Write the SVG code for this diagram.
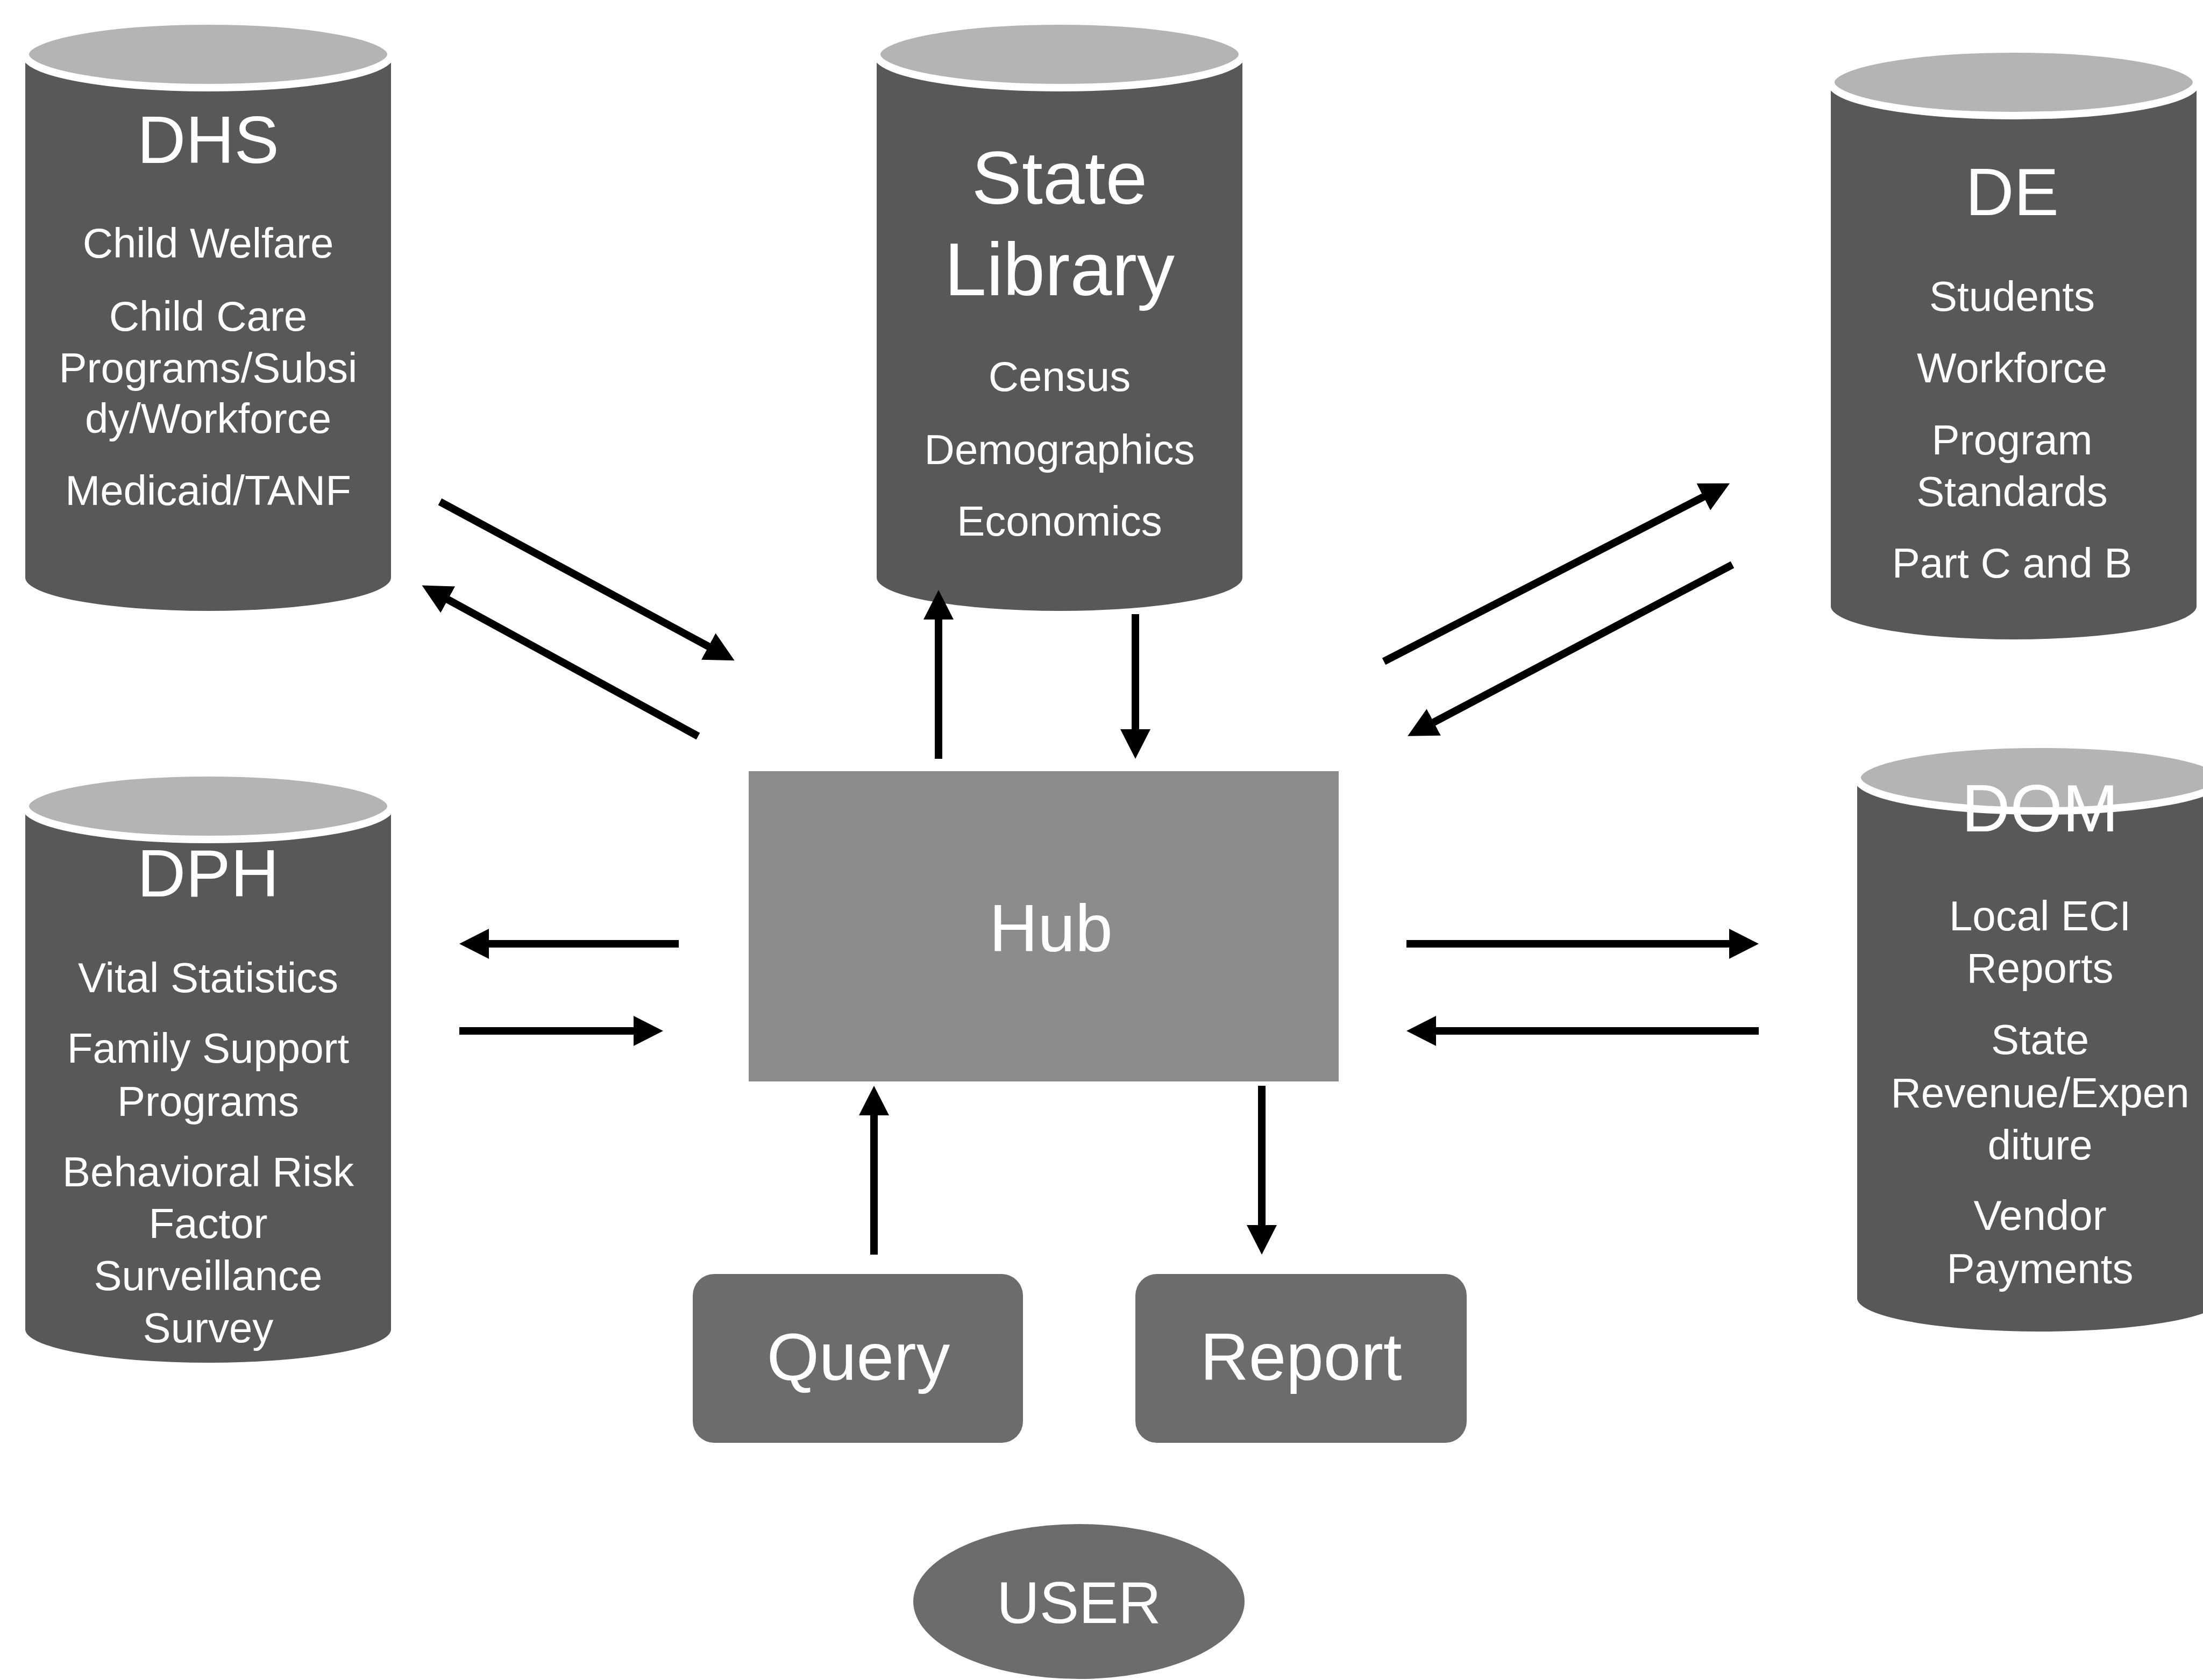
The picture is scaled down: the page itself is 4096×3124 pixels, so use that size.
<svg xmlns="http://www.w3.org/2000/svg" width="4096" height="3124" viewBox="0 0 4096 3124">
<style>
.body{fill:#585858}
.top{fill:#b4b4b4;stroke:#ffffff;stroke-width:14}
.box{fill:#6c6c6c}
.hub{fill:#8c8c8c}
.t{font-family:"Liberation Sans",Arial,sans-serif;fill:#ffffff;text-anchor:middle}
.big{font-size:125px}
.sm{font-size:78px}
.con line{stroke:#000;stroke-width:14;marker-end:url(#ah)}
</style>
<defs>
<marker id="ah" markerUnits="userSpaceOnUse" markerWidth="60" markerHeight="60" viewBox="0 -30 60 60" refX="2" refY="0" orient="auto"><path d="M0,-28 L55,0 L0,28 z" fill="#000"/></marker>
</defs>
<rect width="4096" height="3124" fill="#fff"/>

<g id="dhs">
<path class="body" d="M47,101 L47,1074 A340,62 0 0 0 727,1074 L727,101 Z"/>
<ellipse class="top" cx="387" cy="101" rx="340" ry="62"/>
<text class="t big" x="387" y="303">DHS</text>
<text class="t sm" x="387" y="479">Child Welfare</text>
<text class="t sm" x="387" y="615">Child Care</text>
<text class="t sm" x="387" y="711">Programs/Subsi</text>
<text class="t sm" x="387" y="805">dy/Workforce</text>
<text class="t sm" x="387" y="939">Medicaid/TANF</text>
</g>

<g id="state-library">
<path class="body" d="M1630,101 L1630,1074 A340,62 0 0 0 2310,1074 L2310,101 Z"/>
<ellipse class="top" cx="1970" cy="101" rx="340" ry="62"/>
<text class="t" style="font-size:140px" x="1970" y="379">State</text>
<text class="t" style="font-size:140px" x="1970" y="549">Library</text>
<text class="t sm" x="1970" y="727">Census</text>
<text class="t sm" x="1970" y="863">Demographics</text>
<text class="t sm" x="1970" y="996">Economics</text>
</g>

<g id="de">
<path class="body" d="M3404,153 L3404,1127 A340,62 0 0 0 4084,1127 L4084,153 Z"/>
<ellipse class="top" cx="3744" cy="153" rx="340" ry="62"/>
<text class="t big" x="3741" y="400">DE</text>
<text class="t sm" x="3741" y="578">Students</text>
<text class="t sm" x="3741" y="711">Workforce</text>
<text class="t sm" x="3741" y="845">Program</text>
<text class="t sm" x="3741" y="941">Standards</text>
<text class="t sm" x="3741" y="1074">Part C and B</text>
</g>

<g id="dph">
<path class="body" d="M47,1499 L47,2472 A340,62 0 0 0 727,2472 L727,1499 Z"/>
<ellipse class="top" cx="387" cy="1499" rx="340" ry="62"/>
<text class="t big" x="387" y="1667">DPH</text>
<text class="t sm" x="387" y="1845">Vital Statistics</text>
<text class="t sm" x="387" y="1976">Family Support</text>
<text class="t sm" x="387" y="2075">Programs</text>
<text class="t sm" x="387" y="2206">Behavioral Risk</text>
<text class="t sm" x="387" y="2302">Factor</text>
<text class="t sm" x="387" y="2399">Surveillance</text>
<text class="t sm" x="387" y="2496">Survey</text>
</g>

<g id="dom">
<path class="body" d="M3453,1446 L3453,2414 A340,62 0 0 0 4133,2414 L4133,1446 Z"/>
<ellipse class="top" cx="3793" cy="1446" rx="340" ry="62"/>
<text class="t big" x="3793" y="1546">DOM</text>
<text class="t sm" x="3793" y="1730">Local ECI</text>
<text class="t sm" x="3793" y="1827">Reports</text>
<text class="t sm" x="3793" y="1960">State</text>
<text class="t sm" x="3793" y="2059">Revenue/Expen</text>
<text class="t sm" x="3793" y="2156">diture</text>
<text class="t sm" x="3793" y="2287">Vendor</text>
<text class="t sm" x="3793" y="2386">Payments</text>
</g>

<g id="hub">
<rect class="hub" x="1392" y="1434" width="1097" height="577"/>
<text class="t big" x="1954" y="1769">Hub</text>
</g>

<g id="query">
<rect class="box" x="1288" y="2369" width="614" height="314" rx="40"/>
<text class="t big" x="1596" y="2566">Query</text>
</g>

<g id="report">
<rect class="box" x="2111" y="2369" width="616" height="314" rx="40"/>
<text class="t big" x="2419" y="2566">Report</text>
</g>

<g id="user">
<ellipse class="box" cx="2006" cy="2978" rx="308" ry="144"/>
<text class="t" style="font-size:110px" x="2006" y="3018">USER</text>
</g>

<g id="connectors" class="con">
<line x1="818" y1="933" x2="1319" y2="1203"/>
<line x1="1298" y1="1369" x2="831" y2="1114"/>
<line x1="1745" y1="1411" x2="1745" y2="1150"/>
<line x1="2111" y1="1142" x2="2111" y2="1358"/>
<line x1="2573" y1="1230" x2="3169" y2="923"/>
<line x1="3221" y1="1050" x2="2664" y2="1344"/>
<line x1="1262" y1="1755" x2="907" y2="1755"/>
<line x1="854" y1="1917" x2="1180" y2="1917"/>
<line x1="2615" y1="1755" x2="3217" y2="1755"/>
<line x1="3270" y1="1917" x2="2668" y2="1917"/>
<line x1="1625" y1="2333" x2="1625" y2="2072"/>
<line x1="2346" y1="2019" x2="2346" y2="2280"/>
</g>
</svg>
